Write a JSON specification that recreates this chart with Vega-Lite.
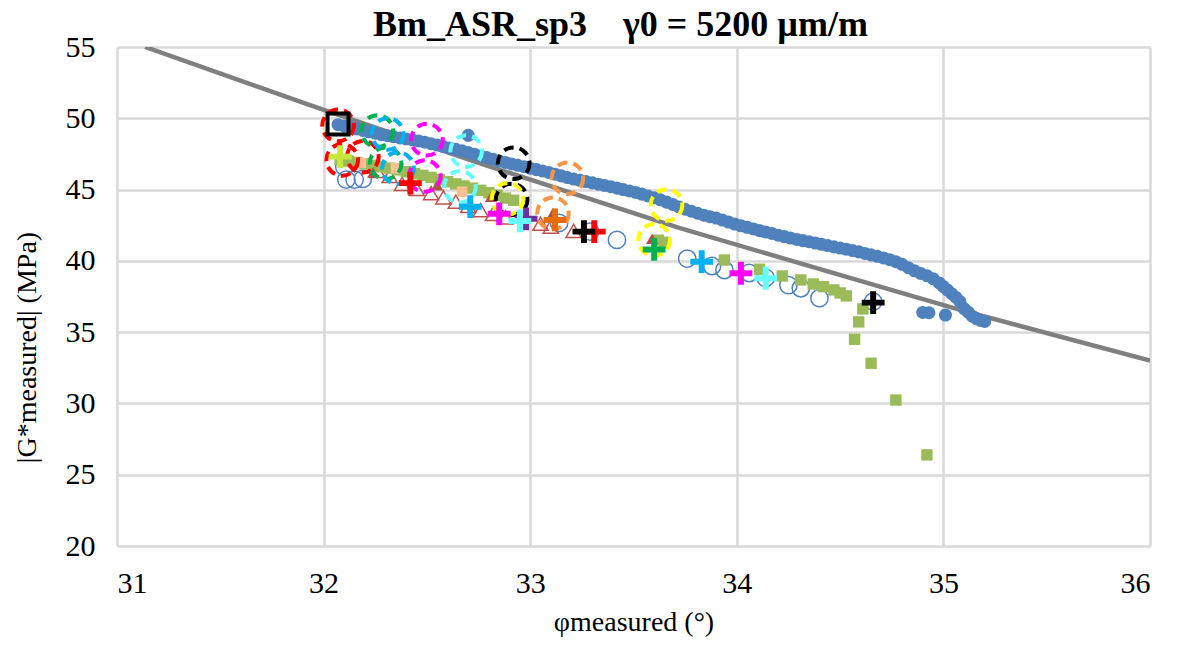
{
  "$schema": "https://vega.github.io/schema/vega-lite/v6.json",
  "autosize": "none",
  "width": 1033,
  "height": 499,
  "padding": {"left": 117, "top": 47, "right": 27, "bottom": 101},
  "background": "#ffffff",
  "title": {"text": "Bm_ASR_sp3\u00a0\u00a0\u00a0\u00a0γ0 = 5200 µm/m", "font": "Liberation Serif", "fontSize": 36, "fontWeight": "bold", "color": "#000000", "anchor": "middle", "offset": -12, "dx": -13},
  "config": {
    "view": {"stroke": null},
    "axis": {"grid": true, "gridColor": "#D9D9D9", "gridWidth": 2.5, "domain": false, "ticks": false, "labelFont": "Liberation Serif", "labelFontSize": 30, "labelColor": "#000000", "titleFont": "Liberation Serif", "titleFontSize": 28, "titleFontWeight": "normal", "titleColor": "#000000"}
  },
  "datasets": {
    "fit": [
      {"x": 31.136, "y": 55}, {"x": 31.934, "y": 50.93}, {"x": 32.757, "y": 46.84}, {"x": 33.725, "y": 42.29}, {"x": 34.693, "y": 38.19}, {"x": 35.08, "y": 36.56}, {"x": 36, "y": 33.0}
    ],
    "band": [
      {"x": 32.07, "y": 49.55}, {"x": 32.10, "y": 49.45}, {"x": 32.13, "y": 49.35}, {"x": 32.16, "y": 49.25}, {"x": 32.19, "y": 49.15},
      {"x": 32.22, "y": 49.05}, {"x": 32.25, "y": 48.95}, {"x": 32.28, "y": 48.85}, {"x": 32.31, "y": 48.78}, {"x": 32.34, "y": 48.70},
      {"x": 32.37, "y": 48.62}, {"x": 32.40, "y": 48.55}, {"x": 32.43, "y": 48.48}, {"x": 32.46, "y": 48.40}, {"x": 32.49, "y": 48.32},
      {"x": 32.52, "y": 48.22}, {"x": 32.55, "y": 48.12}, {"x": 32.58, "y": 48.02}, {"x": 32.61, "y": 47.92}, {"x": 32.64, "y": 47.82},
      {"x": 32.67, "y": 47.72}, {"x": 32.70, "y": 47.60}, {"x": 32.73, "y": 47.48}, {"x": 32.76, "y": 47.36}, {"x": 32.79, "y": 47.24},
      {"x": 32.82, "y": 47.12}, {"x": 32.85, "y": 47.00}, {"x": 32.88, "y": 46.90}, {"x": 32.91, "y": 46.80}, {"x": 32.94, "y": 46.70},
      {"x": 32.97, "y": 46.60}, {"x": 33.00, "y": 46.50}, {"x": 33.03, "y": 46.40}, {"x": 33.06, "y": 46.30}, {"x": 33.09, "y": 46.20},
      {"x": 33.12, "y": 46.08}, {"x": 33.15, "y": 45.96}, {"x": 33.18, "y": 45.84}, {"x": 33.21, "y": 45.74}, {"x": 33.24, "y": 45.65},
      {"x": 33.27, "y": 45.56}, {"x": 33.30, "y": 45.47}, {"x": 33.33, "y": 45.38}, {"x": 33.36, "y": 45.29}, {"x": 33.39, "y": 45.20},
      {"x": 33.42, "y": 45.10}, {"x": 33.45, "y": 45.00}, {"x": 33.48, "y": 44.90}, {"x": 33.51, "y": 44.80}, {"x": 33.54, "y": 44.68},
      {"x": 33.57, "y": 44.55}, {"x": 33.60, "y": 44.42}, {"x": 33.63, "y": 44.28}, {"x": 33.66, "y": 44.12}, {"x": 33.69, "y": 43.96},
      {"x": 33.72, "y": 43.78}, {"x": 33.75, "y": 43.62}, {"x": 33.78, "y": 43.48}, {"x": 33.81, "y": 43.34}, {"x": 33.84, "y": 43.20},
      {"x": 33.87, "y": 43.10}, {"x": 33.90, "y": 43.00}, {"x": 33.93, "y": 42.86}, {"x": 33.96, "y": 42.72}, {"x": 33.99, "y": 42.58},
      {"x": 34.02, "y": 42.46}, {"x": 34.05, "y": 42.35}, {"x": 34.08, "y": 42.24}, {"x": 34.11, "y": 42.12}, {"x": 34.14, "y": 42.02},
      {"x": 34.17, "y": 41.92}, {"x": 34.20, "y": 41.80}, {"x": 34.23, "y": 41.70}, {"x": 34.26, "y": 41.60}, {"x": 34.29, "y": 41.50},
      {"x": 34.32, "y": 41.42}, {"x": 34.35, "y": 41.34}, {"x": 34.38, "y": 41.25}, {"x": 34.41, "y": 41.16}, {"x": 34.44, "y": 41.07},
      {"x": 34.47, "y": 40.98}, {"x": 34.50, "y": 40.90}, {"x": 34.53, "y": 40.81}, {"x": 34.56, "y": 40.72}, {"x": 34.59, "y": 40.63},
      {"x": 34.62, "y": 40.52}, {"x": 34.65, "y": 40.42}, {"x": 34.68, "y": 40.32}, {"x": 34.71, "y": 40.20}, {"x": 34.74, "y": 40.08},
      {"x": 34.77, "y": 39.94}, {"x": 34.80, "y": 39.76}, {"x": 34.83, "y": 39.52}, {"x": 34.86, "y": 39.30}, {"x": 34.89, "y": 39.12},
      {"x": 34.92, "y": 38.96}, {"x": 34.95, "y": 38.75}, {"x": 34.98, "y": 38.45}, {"x": 35.00, "y": 38.20}, {"x": 35.02, "y": 37.95},
      {"x": 35.04, "y": 37.70}, {"x": 35.06, "y": 37.45}, {"x": 35.08, "y": 37.14}, {"x": 35.10, "y": 36.65}, {"x": 35.12, "y": 36.40},
      {"x": 35.14, "y": 36.12}, {"x": 35.16, "y": 35.95}, {"x": 35.18, "y": 35.82}, {"x": 35.20, "y": 35.75},
      {"x": 34.90, "y": 36.38}, {"x": 34.93, "y": 36.36}, {"x": 35.01, "y": 36.20}, {"x": 32.70, "y": 48.80}
    ],
    "opencirc": [
      {"x": 32.11, "y": 45.70}, {"x": 32.15, "y": 45.70}, {"x": 32.19, "y": 45.75}, {"x": 32.10, "y": 46.60},
      {"x": 33.14, "y": 42.66}, {"x": 33.29, "y": 42.05}, {"x": 33.42, "y": 41.47},
      {"x": 33.76, "y": 40.15}, {"x": 33.88, "y": 39.64}, {"x": 33.94, "y": 39.36}, {"x": 34.06, "y": 39.15},
      {"x": 34.14, "y": 38.80}, {"x": 34.25, "y": 38.30}, {"x": 34.31, "y": 38.08}, {"x": 34.40, "y": 37.38}, {"x": 34.66, "y": 37.14}
    ],
    "tri": [
      {"x": 32.26, "y": 46.30}, {"x": 32.32, "y": 45.95}, {"x": 32.38, "y": 45.40}, {"x": 32.45, "y": 45.05},
      {"x": 32.52, "y": 44.75}, {"x": 32.58, "y": 44.45}, {"x": 32.64, "y": 44.15}, {"x": 32.70, "y": 43.85},
      {"x": 32.76, "y": 43.55}, {"x": 32.82, "y": 43.30}, {"x": 32.88, "y": 43.05}, {"x": 33.05, "y": 42.60},
      {"x": 33.10, "y": 42.40}, {"x": 33.21, "y": 42.10}
    ],
    "sq": [
      {"x": 32.08, "y": 47.10}, {"x": 32.12, "y": 47.00}, {"x": 32.16, "y": 46.90}, {"x": 32.20, "y": 46.80}, {"x": 32.24, "y": 46.70},
      {"x": 32.28, "y": 46.60}, {"x": 32.32, "y": 46.50}, {"x": 32.36, "y": 46.38}, {"x": 32.40, "y": 46.25}, {"x": 32.44, "y": 46.12},
      {"x": 32.48, "y": 46.00}, {"x": 32.52, "y": 45.85}, {"x": 32.56, "y": 45.70}, {"x": 32.60, "y": 45.55}, {"x": 32.64, "y": 45.40},
      {"x": 32.68, "y": 45.25}, {"x": 32.72, "y": 45.10}, {"x": 32.76, "y": 44.95}, {"x": 32.80, "y": 44.78}, {"x": 32.84, "y": 44.60},
      {"x": 32.88, "y": 44.40}, {"x": 32.92, "y": 44.25},
      {"x": 33.62, "y": 41.45}, {"x": 33.65, "y": 41.30}, {"x": 33.94, "y": 40.06}, {"x": 34.11, "y": 39.41}, {"x": 34.22, "y": 38.94},
      {"x": 34.31, "y": 38.66}, {"x": 34.37, "y": 38.38}, {"x": 34.42, "y": 38.19}, {"x": 34.47, "y": 37.96}, {"x": 34.50, "y": 37.75},
      {"x": 34.53, "y": 37.54}, {"x": 34.61, "y": 36.63}, {"x": 34.59, "y": 35.72}, {"x": 34.57, "y": 34.50}, {"x": 34.65, "y": 32.82},
      {"x": 34.77, "y": 30.24}, {"x": 34.92, "y": 26.39}
    ],
    "dtri": [
      {"x": 32.24, "y": 46.20}, {"x": 32.55, "y": 45.30}, {"x": 32.81, "y": 44.50}, {"x": 33.11, "y": 43.35}, {"x": 33.59, "y": 41.55}
    ],
    "tan": [
      {"x": 32.18, "y": 46.87}, {"x": 32.35, "y": 46.50}, {"x": 32.67, "y": 44.85}
    ],
    "dash": [
      {"x": 32.07, "y": 49.50, "run": "r1"}, {"x": 32.09, "y": 47.08, "run": "r1"}, {"x": 32.19, "y": 47.30, "run": "r1"},
      {"x": 32.26, "y": 49.10, "run": "r3"}, {"x": 32.30, "y": 46.85, "run": "r3"},
      {"x": 32.31, "y": 48.90, "run": "r4"}, {"x": 32.36, "y": 46.50, "run": "r4"},
      {"x": 32.50, "y": 48.50, "run": "r5"}, {"x": 32.49, "y": 45.95, "run": "r5"},
      {"x": 32.69, "y": 47.70, "run": "r6"}, {"x": 32.66, "y": 45.20, "run": "r6"},
      {"x": 32.92, "y": 46.85, "run": "r2"}, {"x": 32.91, "y": 44.30, "run": "r2"},
      {"x": 32.89, "y": 44.35, "run": "r7"}, {"x": 33.66, "y": 43.92, "run": "r7"}, {"x": 33.60, "y": 41.47, "run": "r7"},
      {"x": 33.18, "y": 45.79, "run": "r8"}, {"x": 33.11, "y": 43.34, "run": "r8"}
    ],
    "cross": [
      {"x": 33.31, "y": 42.05, "run": "r1"}, {"x": 32.42, "y": 45.45, "run": "r1"},
      {"x": 33.26, "y": 42.05, "run": "r2"}, {"x": 34.66, "y": 37.07, "run": "r2"},
      {"x": 33.12, "y": 42.87, "run": "r8"},
      {"x": 32.98, "y": 42.95, "run": "r9"},
      {"x": 32.85, "y": 43.30, "run": "r5"}, {"x": 34.02, "y": 39.13, "run": "r5"},
      {"x": 32.71, "y": 43.80, "run": "r4"}, {"x": 33.83, "y": 39.94, "run": "r4"},
      {"x": 32.95, "y": 42.80, "run": "r6"}, {"x": 34.14, "y": 38.78, "run": "r6"},
      {"x": 33.60, "y": 40.80, "run": "r3"},
      {"x": 32.08, "y": 47.31, "run": "r10"}
    ],
    "box": [
      {"x": 32.07, "y": 49.60}
    ]
  },
  "encoding": {
    "x": {"field": "x", "type": "quantitative", "scale": {"domain": [31, 36], "nice": false, "zero": false}, "axis": {"values": [31, 32, 33, 34, 35, 36], "labelPadding": 22, "title": "φmeasured (°)", "titlePadding": 10}},
    "y": {"field": "y", "type": "quantitative", "scale": {"domain": [20, 55], "nice": false, "zero": false}, "axis": {"values": [20, 25, 30, 35, 40, 45, 50, 55], "labelPadding": 22, "title": "|G*measured| (MPa)", "titleAngle": 270, "titleBaseline": "bottom", "titleAlign": "center", "titleX": -76, "titleY": 300}}
  },
  "layer": [
    {"data": {"name": "fit"}, "mark": {"type": "line", "color": "#7F7F7F", "strokeWidth": 4.5, "clip": true}, "encoding": {}},
    {"data": {"name": "band"}, "mark": {"type": "point", "shape": "circle", "filled": true, "color": "#4F81BD", "size": 170, "opacity": 1, "strokeWidth": 0}},
    {"data": {"name": "opencirc"}, "mark": {"type": "point", "shape": "circle", "filled": false, "color": "#4F81BD", "size": 300, "opacity": 1, "strokeWidth": 1.5}},
    {"data": {"name": "tri"}, "mark": {"type": "point", "shape": "triangle-up", "filled": false, "color": "#C0504D", "size": 230, "opacity": 1, "strokeWidth": 1.5}},
    {"data": {"name": "sq"}, "mark": {"type": "point", "shape": "square", "filled": true, "color": "#9BBB59", "size": 130, "opacity": 1, "strokeWidth": 0}},
    {"data": {"name": "dtri"}, "mark": {"type": "point", "shape": "triangle-up", "filled": true, "color": "#B0504D", "size": 150, "opacity": 1, "strokeWidth": 0}},
    {"data": {"name": "tan"}, "mark": {"type": "point", "shape": "square", "filled": true, "color": "#FAC090", "size": 110, "opacity": 1, "strokeWidth": 0}},
    {"data": {"name": "dash"}, "mark": {"type": "point", "shape": "circle", "filled": false, "size": 1000, "opacity": 1, "strokeWidth": 4, "strokeDash": [10, 6]},
     "encoding": {"color": {"field": "run", "type": "nominal", "legend": null, "scale": {"domain": ["r1", "r2", "r3", "r4", "r5", "r6", "r7", "r8"], "range": ["#FF0000", "#000000", "#00B050", "#00B0F0", "#FF00FF", "#66FFFF", "#FFFF00", "#F79646"]}}}},
    {"data": {"name": "cross"}, "mark": {"type": "point", "shape": "M-1,-0.26H-0.26V-1H0.26V-0.26H1V0.26H0.26V1H-0.26V0.26H-1Z", "filled": true, "size": 520, "opacity": 1, "strokeWidth": 0},
     "encoding": {"color": {"field": "run", "type": "nominal", "legend": null, "scale": {"domain": ["r1", "r2", "r3", "r4", "r5", "r6", "r8", "r9", "r10"], "range": ["#FF0000", "#000000", "#00B050", "#00B0F0", "#FF00FF", "#66FFFF", "#E46C0A", "#7030A0", "#C6E83A"]}}}},
    {"data": {"name": "box"}, "mark": {"type": "point", "shape": "square", "filled": false, "color": "#000000", "size": 440, "opacity": 1, "strokeWidth": 4}}
  ],
  "resolve": {"scale": {"color": "independent"}}
}
